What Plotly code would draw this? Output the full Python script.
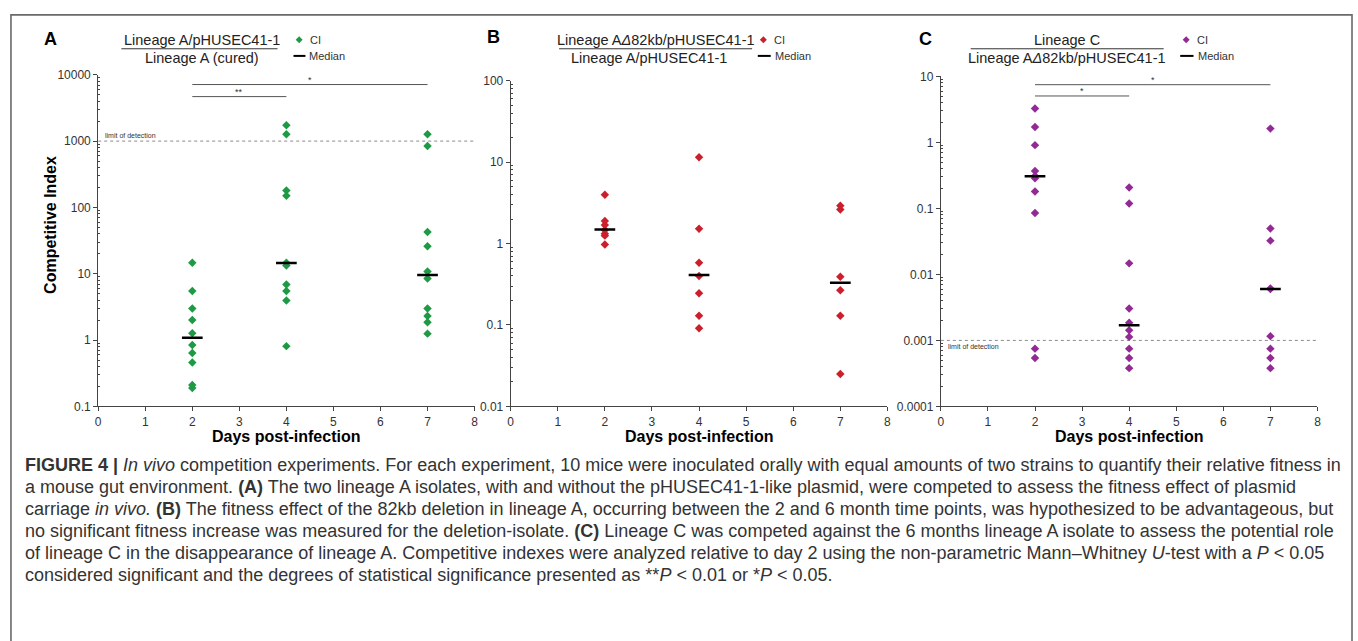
import numpy as np
import plotly.graph_objects as go

W, H = 1358, 641

# ---------------- data ----------------
days = [2, 4, 7]
x_ticks = [0, 1, 2, 3, 4, 5, 6, 7, 8]

# Panel A: Lineage A/pHUSEC41-1 vs Lineage A (cured)
a_day2 = [14.7, 5.5, 3.0, 2.0, 1.27, 0.84, 0.64, 0.46, 0.21, 0.19]
a_day4 = [1740, 1270, 180, 150, 14.7, 13.3, 6.9, 5.5, 3.95, 0.81]
a_day7 = [1270, 845, 42.7, 25.9, 10.8, 8.5, 3.0, 2.3, 1.85, 1.25]
a_median = [1.08, 14.5, 9.6]
a_yticks = [0.1, 1, 10, 100, 1000, 10000]
a_ytext = ["0.1", "1", "10", "100", "1000", "10000"]
a_lod = 1000
a_sig = [(2, 4, "**", 4690), (2, 7, "*", 7125)]

# Panel B: Lineage AΔ82kb/pHUSEC41-1 vs Lineage A/pHUSEC41-1
b_day2 = [3.97, 1.89, 1.69, 1.47, 1.32, 1.25, 0.97]
b_day4 = [11.5, 1.52, 0.58, 0.40, 0.245, 0.13, 0.091]
b_day7 = [2.92, 2.62, 0.39, 0.267, 0.13, 0.025]
b_median = [1.49, 0.41, 0.33]
b_yticks = [0.01, 0.1, 1, 10, 100]
b_ytext = ["0.01", "0.1", "1", "10", "100"]

# Panel C: Lineage C vs Lineage AΔ82kb/pHUSEC41-1
c_day2 = [3.27, 1.71, 0.91, 0.37, 0.31, 0.286, 0.18, 0.085, 0.00075, 0.00054]
c_day4 = [0.207, 0.119, 0.0147, 0.00304, 0.00185, 0.00142, 0.00113, 0.00075, 0.00054, 0.00038]
c_day7 = [1.62, 0.0496, 0.0325, 0.0061, 0.006, 0.00116, 0.00075, 0.00054, 0.00038]
c_median = [0.306, 0.0017, 0.006]
c_yticks = [0.0001, 0.001, 0.01, 0.1, 1, 10]
c_ytext = ["0.0001", "0.001", "0.01", "0.1", "1", "10"]
c_lod = 0.001
c_sig = [(2, 4, "*", 5.06), (2, 7, "*", 7.5)]

GREEN = "#1e9a45"
RED = "#cc1f2c"
PURPLE = "#922a94"

caption_lines = [
    "<b>FIGURE 4 |</b> <i>In vivo</i> competition experiments. For each experiment, 10 mice were inoculated orally with equal amounts of two strains to quantify their relative fitness in",
    "a mouse gut environment. <b>(A)</b> The two lineage A isolates, with and without the pHUSEC41-1-like plasmid, were competed to assess the fitness effect of plasmid",
    "carriage <i>in vivo.</i> <b>(B)</b> The fitness effect of the 82kb deletion in lineage A, occurring between the 2 and 6 month time points, was hypothesized to be advantageous, but",
    "no significant fitness increase was measured for the deletion-isolate. <b>(C)</b> Lineage C was competed against the 6 months lineage A isolate to assess the potential role",
    "of lineage C in the disappearance of lineage A. Competitive indexes were analyzed relative to day 2 using the non-parametric Mann–Whitney <i>U</i>-test with a <i>P</i> &lt; 0.05",
    "considered significant and the degrees of statistical significance presented as **<i>P</i> &lt; 0.01 or *<i>P</i> &lt; 0.05.",
]

# ---------------- helpers ----------------
def px(x):
    return x / W

def py(y):
    return 1 - y / H

FONT = "Liberation Sans, Arial, sans-serif"
CAPFONT = "Liberation Sans, Arial, sans-serif"
AXC = "#444444"

panels = [
    dict(name="A", data=[a_day2, a_day4, a_day7], med=a_median, color=GREEN,
         yt=a_yticks, ytx=a_ytext, x0=95.7, x1=474.0, ytop=69.3,
         num="Lineage A/pHUSEC41-1", den="Lineage A (cured)",
         numx=200, denx=200, ul=(119, 276), letter=(48, 33),
         leg=(297.7, 292, 304), lod=a_lod, lodlab=(0.1, "above"), sig=a_sig),
    dict(name="B", data=[b_day2, b_day4, b_day7], med=b_median, color=RED,
         yt=b_yticks, ytx=b_ytext, x0=510.3, x1=889.0, ytop=75.3,
         num="Lineage A<i>Δ</i>82kb/pHUSEC41-1", den="Lineage A/pHUSEC41-1",
         numx=656, denx=649, ul=(559, 753), letter=(492.7, 31),
         leg=(764.3, 758.7, 771.7), lod=None, lodlab=None, sig=[]),
    dict(name="C", data=[c_day2, c_day4, c_day7], med=c_median, color=PURPLE,
         yt=c_yticks, ytx=c_ytext, x0=942.7, x1=1321.3, ytop=71.0,
         num="Lineage C", den="Lineage A<i>Δ</i>82kb/pHUSEC41-1",
         numx=1070, denx=1070, ul=(972.7, 1166.7), letter=(927.3, 33),
         leg=(1189.3, 1183.3, 1196.7), lod=c_lod, lodlab=(0.1, "below"), sig=c_sig),
]

fig = go.Figure()
annotations = []
shapes = []
YBOT = 408.3


def ann(x, y, text, size, color="#333", xanchor="center", yanchor="middle", **kw):
    d = dict(x=px(x), y=py(y), xref="paper", yref="paper", text=text, showarrow=False,
             xanchor=xanchor, yanchor=yanchor,
             font=dict(family=kw.pop("family", FONT), size=size, color=color))
    d.update(kw)
    annotations.append(d)


for i, p in enumerate(panels):
    sfx = "" if i == 0 else str(i + 1)
    xa, ya = "x" + sfx, "y" + sfx
    # LOD line
    if p["lod"] is not None:
        fig.add_trace(go.Scatter(x=[0, 8], y=[p["lod"], p["lod"]], mode="lines",
                                 line=dict(color="#8a8a8a", width=1, dash="dot"),
                                 xaxis=xa, yaxis=ya, hoverinfo="skip"))
        lx, pos = p["lodlab"]
        annotations.append(dict(x=lx, y=np.log10(p["lod"]), xref=xa, yref=ya,
                                text="limit of detection", showarrow=False,
                                xanchor="left", yanchor="bottom" if pos == "above" else "top",
                                yshift=0 if pos == "above" else -1,
                                font=dict(family=FONT, size=7, color="#333")))
    # significance bars
    for (s0, s1, txt, yv) in p["sig"]:
        fig.add_trace(go.Scatter(x=[s0, s1], y=[yv, yv], mode="lines",
                                 line=dict(color="#555555", width=1),
                                 xaxis=xa, yaxis=ya, hoverinfo="skip"))
        annotations.append(dict(x=(s0 + s1) / 2, y=np.log10(yv), xref=xa, yref=ya,
                                text=txt, showarrow=False, xanchor="center",
                                yanchor="bottom", yshift=-2,
                                font=dict(family=FONT, size=9, color="#333")))
    # CI points
    xs, ys = [], []
    for d, vals in zip(days, p["data"]):
        xs += [d] * len(vals)
        ys += vals
    fig.add_trace(go.Scatter(x=xs, y=ys, mode="markers",
                             marker=dict(symbol="diamond", size=6.5, color=p["color"],
                                         line=dict(width=0)),
                             xaxis=xa, yaxis=ya, cliponaxis=False))
    # medians
    mx, my = [], []
    for d, m in zip(days, p["med"]):
        mx += [d - 0.22, d + 0.22, None]
        my += [m, m, None]
    fig.add_trace(go.Scatter(x=mx, y=my, mode="lines",
                             line=dict(color="black", width=2.5),
                             xaxis=xa, yaxis=ya, hoverinfo="skip"))

    lo, hi = np.log10(p["yt"][0]), np.log10(p["yt"][-1])
    minor_vals = [k * 10 ** e for e in range(int(lo), int(hi)) for k in range(2, 10)]
    fig.update_layout(**{
        "xaxis" + sfx: dict(domain=[px(p["x0"]), px(p["x1"])], range=[0, 8],
                            tickvals=x_ticks, ticktext=[str(t) for t in x_ticks],
                            showline=True, linecolor=AXC, linewidth=1,
                            ticks="outside", ticklen=4, tickcolor=AXC, tickwidth=1,
                            tickfont=dict(family=FONT, size=12, color="#333"),
                            showgrid=False, zeroline=False, anchor=ya, fixedrange=True),
        "yaxis" + sfx: dict(domain=[py(YBOT), py(p["ytop"])], type="log", range=[lo, hi],
                            tickvals=p["yt"], ticktext=p["ytx"],
                            showline=True, linecolor=AXC, linewidth=1,
                            ticks="outside", ticklen=4, tickcolor=AXC, tickwidth=1,
                            tickfont=dict(family=FONT, size=12, color="#333"),
                            minor=dict(tickvals=minor_vals, ticks="inside", ticklen=2,
                                       tickcolor=AXC, tickwidth=1, showgrid=False),
                            showgrid=False, zeroline=False, anchor=xa, fixedrange=True),
    })

    # panel letter
    ann(p["letter"][0], p["letter"][1], "<b>%s</b>" % p["name"], 18, color="black")
    # fraction title
    ann(p["numx"], 33.5, p["num"], 14.5, color="#222")
    ann(p["denx"], 52, p["den"], 14.5, color="#222")
    shapes.append(dict(type="line", xref="paper", yref="paper",
                       x0=px(p["ul"][0]), x1=px(p["ul"][1]), y0=py(42.7), y1=py(42.7),
                       line=dict(color="#333", width=1)))
    # legend
    dx, l0, l1 = p["leg"]
    r = 3.5
    cy = 33.5
    path = "M %f,%f L %f,%f L %f,%f L %f,%f Z" % (
        px(dx), py(cy - r), px(dx + r), py(cy), px(dx), py(cy + r), px(dx - r), py(cy))
    shapes.append(dict(type="path", xref="paper", yref="paper", path=path,
                       fillcolor=p["color"], line=dict(width=0)))
    ann(dx + 9, cy, "CI", 11, xanchor="left")
    shapes.append(dict(type="line", xref="paper", yref="paper",
                       x0=px(l0), x1=px(l1), y0=py(50), y1=py(50),
                       line=dict(color="black", width=2)))
    ann(l1 + 2, 50, "Median", 11, xanchor="left")
    # x title
    ann((p["x0"] + p["x1"]) / 2, 439.5, "<b>Days post-infection</b>", 16, color="black")

# y title
ann(47, 223, "<b>Competitive Index</b>", 16, color="black", textangle=-90)

# caption
for k, line in enumerate(caption_lines):
    ann(20, 468 + 22.5 * k, line, 18, xanchor="left", align="left", family=CAPFONT)

# frame
shapes.append(dict(type="rect", xref="paper", yref="paper",
                   x0=px(8), x1=px(1356), y0=py(8), y1=py(720),
                   line=dict(color="#6a6a6a", width=1.6), fillcolor="rgba(0,0,0,0)", layer="below"))

fig.update_layout(width=W, height=H, margin=dict(l=0, r=0, t=0, b=0),
                  paper_bgcolor="white", plot_bgcolor="white", showlegend=False,
                  annotations=annotations, shapes=shapes)

fig.write_html("out.html", config={"displayModeBar": False},
               post_script="document.body.style.margin='0px';document.body.style.overflow='hidden';")
